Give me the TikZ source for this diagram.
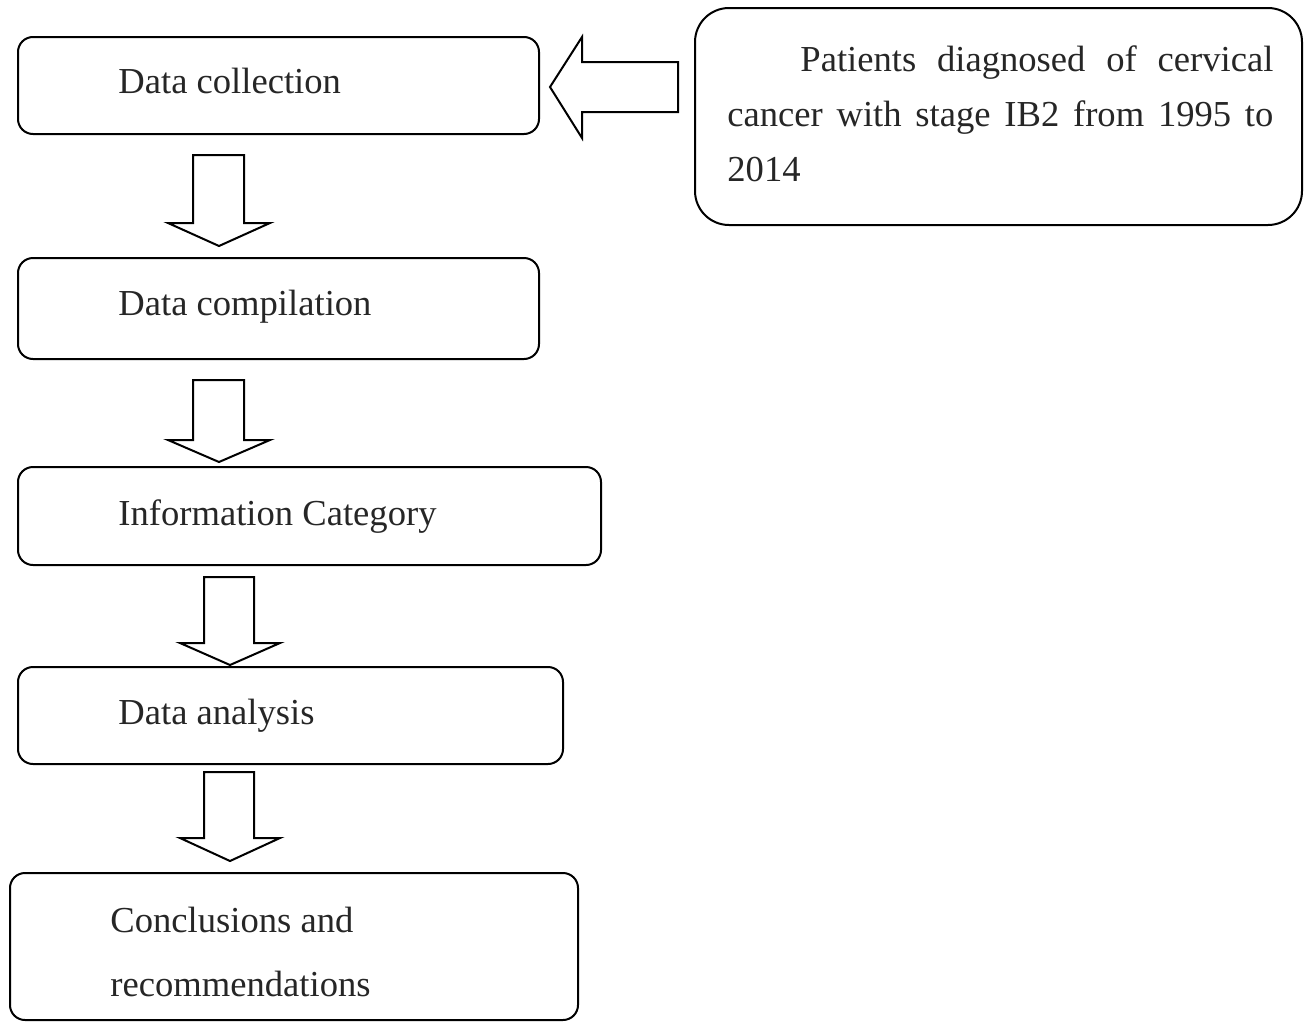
\documentclass[tikz,border=0pt]{standalone}
\usepackage{fontspec}
\setmainfont{Liberation Serif}
\begin{document}
\begin{tikzpicture}[x=0.5pt,y=-0.5pt,
  box/.style={draw=black,line width=1pt,rounded corners=7.5pt,inner sep=0pt},
  lbl/.style={anchor=base west,inner sep=0pt,font=\fontsize{18.3pt}{26pt}\selectfont,text=black!85},
  blockarrow/.style={draw=black,line width=1pt,fill=white,line join=miter}]
\useasboundingbox (0,0) rectangle (1312,1023);
% boxes
\node[box,minimum width=260.5pt,minimum height=48.5pt] (b1) at (278.5,85.5) {};
\node[box,minimum width=260.5pt,minimum height=50.5pt] (b2) at (278.5,308.5) {};
\node[box,minimum width=291.5pt,minimum height=49pt] (b3) at (309.5,516) {};
\node[box,minimum width=272.5pt,minimum height=48.5pt] (b4) at (290.5,715.5) {};
\node[box,minimum width=284pt,minimum height=73.5pt] (b5) at (294,946.5) {};
\node[box,rounded corners=17pt,minimum width=303.5pt,minimum height=108.5pt] (src) at (998.5,116.5) {};
% labels
\node[lbl] (t1) at (118,93) {Data collection};
\node[lbl] (t2) at (118,315) {Data compilation};
\node[lbl] (t3) at (118,525) {Information Category};
\node[lbl] (t4) at (118,724) {Data analysis};
\node[lbl] (t5a) at (110,932) {Conclusions and};
\node[lbl] (t5b) at (110,996) {recommendations};
\node[lbl,anchor=north west,text width=273pt,align=justify,font=\fontsize{18.3pt}{27.5pt}\selectfont] (ts) at (727,45)
  {\hspace*{36.5pt}Patients diagnosed of cervical\linebreak cancer with stage IB2 from 1995 to\linebreak 2014};
% left block arrow
\draw[blockarrow] (550,87) -- (582,37) -- (582,62) -- (678,62) -- (678,112) -- (582,112) -- (582,138) -- cycle;
% down block arrows
\draw[blockarrow] (193,155) -- (244,155) -- (244,223) -- (270,223) -- (219,246) -- (168,223) -- (193,223) -- cycle;
\draw[blockarrow] (193,380) -- (244,380) -- (244,440) -- (270,440) -- (219,462) -- (168,440) -- (193,440) -- cycle;
\draw[blockarrow] (204,577) -- (254,577) -- (254,643) -- (280,643) -- (230,665) -- (180,643) -- (204,643) -- cycle;
\draw[blockarrow] (204,772) -- (254,772) -- (254,838) -- (280,838) -- (230,861) -- (180,838) -- (204,838) -- cycle;
\end{tikzpicture}
\end{document}
